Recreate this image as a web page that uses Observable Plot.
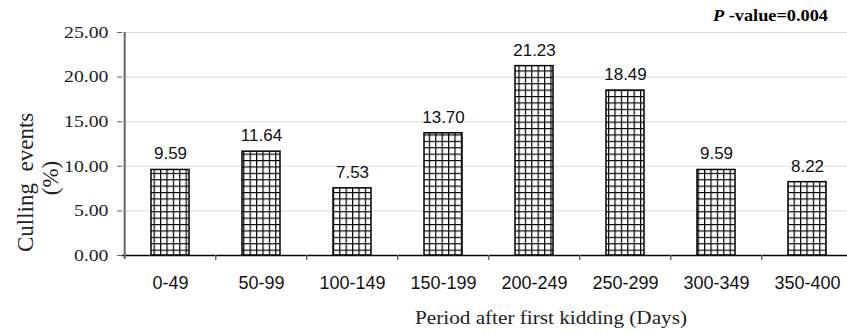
<!DOCTYPE html>
<html>
<head>
<meta charset="utf-8">
<script src="https://cdn.jsdelivr.net/npm/d3@7"></script>
<script src="https://cdn.jsdelivr.net/npm/@observablehq/plot@0.6"></script>
<style>
  html, body { margin: 0; padding: 0; background: #fff; overflow: hidden; }
  #chart { width: 847px; height: 334px; overflow: hidden; }
  #chart svg { max-width: none !important; }
  g[aria-label="x-axis tick label"] { font-family: "Liberation Sans", Arial, sans-serif; font-size: 18px; }
  g[aria-label="y-axis tick label"] { font-family: "Liberation Serif", "Times New Roman", serif; font-size: 16.5px; }
</style>
</head>
<body>
<div id="chart"></div>
<script>
const categories = ["0-49", "50-99", "100-149", "150-199", "200-249", "250-299", "300-349", "350-400"];
const values = [9.59, 11.64, 7.53, 13.70, 21.23, 18.49, 9.59, 8.22];
const yTicks = [0, 5, 10, 15, 20, 25];
const yLabelLine1 = "Culling  events";
const yLabelLine2 = "(%)";
const xLabel = "Period after first kidding (Days)";
const pValueLabel = ["P", " -value=0.004"];

const data = categories.map((c, i) => ({cat: c, value: values[i]}));

const W = 855, H = 334, ML = 122, MR = 0, MT = 32, MB = 79;
const step = (W - ML - MR) / categories.length;

const svg = Plot.plot({
  width: W,
  height: H,
  marginLeft: ML,
  marginRight: MR,
  marginTop: MT,
  marginBottom: MB,
  style: {fontFamily: "Liberation Sans, Arial, sans-serif", background: "white", overflow: "visible", maxWidth: "none"},
  x: {domain: categories, paddingInner: 0.58, paddingOuter: 0.29, label: null},
  y: {domain: [0, 25], label: null},
  marks: [
    Plot.ruleY(yTicks.filter(d => d > 0), {stroke: "#dcdcdc", strokeWidth: 1}),
    Plot.barY(data, {x: "cat", y: "value", fill: "url(#gridhatch)", stroke: "black", strokeWidth: 1.5}),
    Plot.text(data, {x: "cat", y: "value", text: d => d.value.toFixed(2), dy: -16, fontSize: 17, fill: "#111", fontFamily: "Liberation Sans, Arial, sans-serif"}),
    Plot.ruleY([0], {stroke: "black", strokeWidth: 1.5}),
    Plot.ruleX([categories[0]], {x: d => d, dx: -step / 2, y1: 25, y2: 0, insetBottom: -4, stroke: "#666", strokeWidth: 2}),
    Plot.ruleX(categories.slice(1), {x: d => d, dx: -step / 2, y1: 0, y2: 0, insetBottom: -5, stroke: "#666", strokeWidth: 1.5}),
    Plot.axisY({ticks: yTicks, tickFormat: d3.format(".2f"), tickSize: 5, tickPadding: 9, stroke: "#666", fill: "#222", label: null}),
    Plot.axisX({tickSize: 0, tickPadding: 21, fill: "#111", label: null})
  ]
});
svg.style.maxWidth = "none";

const s = d3.select(svg);
const defs = s.insert("defs", ":first-child");
const cell = 6.4;
const pat = defs.append("pattern").attr("id", "gridhatch")
  .attr("patternUnits", "userSpaceOnUse").attr("width", cell).attr("height", cell);
pat.append("rect").attr("width", cell).attr("height", cell).attr("fill", "white");
pat.append("path").attr("d", `M0 0.6H${cell}M0.6 0V${cell}`).attr("stroke", "black").attr("stroke-width", 1.2);

// y-axis title (two lines, rotated)
s.append("text")
  .attr("transform", "translate(33,252) rotate(-90)")
  .attr("text-anchor", "start")
  .attr("font-family", "Liberation Serif, Times New Roman, serif")
  .attr("font-size", 23)
  .attr("fill", "#222")
  .style("white-space", "pre")
  .text(yLabelLine1);
s.append("text")
  .attr("transform", "translate(58,178) rotate(-90)")
  .attr("text-anchor", "middle")
  .attr("font-family", "Liberation Serif, Times New Roman, serif")
  .attr("font-size", 23)
  .attr("fill", "#222")
  .text(yLabelLine2);

// x-axis title
s.append("text")
  .attr("x", 415).attr("y", 324)
  .attr("text-anchor", "start")
  .attr("textLength", 272).attr("lengthAdjust", "spacingAndGlyphs")
  .attr("font-family", "Liberation Serif, Times New Roman, serif")
  .attr("font-size", 18)
  .attr("fill", "#222")
  .text(xLabel);

// p-value annotation
const pt = s.append("text")
  .attr("x", 713).attr("y", 21)
  .attr("text-anchor", "start")
  .attr("textLength", 115).attr("lengthAdjust", "spacingAndGlyphs")
  .attr("font-family", "Liberation Serif, Times New Roman, serif")
  .attr("font-size", 16)
  .attr("font-weight", "bold")
  .attr("fill", "black");
pt.append("tspan").attr("font-style", "italic").text(pValueLabel[0]);
pt.append("tspan").style("white-space", "pre").text(pValueLabel[1]);

document.getElementById("chart").appendChild(svg);

// widen the serif y tick labels slightly, as in the reference
s.selectAll('g[aria-label="y-axis tick label"] text').each(function () {
  const len = this.getComputedTextLength();
  if (len > 0) {
    this.setAttribute("textLength", (len * 1.2).toFixed(1));
    this.setAttribute("lengthAdjust", "spacingAndGlyphs");
  }
});
</script>
</body>
</html>
